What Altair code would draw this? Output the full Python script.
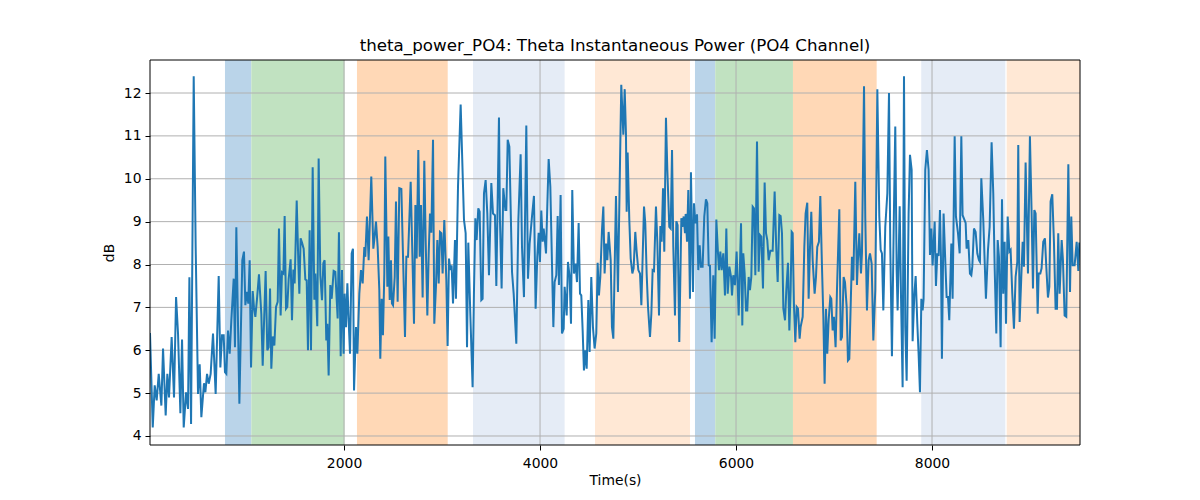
import altair as alt
import pandas as pd

# ---- line data (time in s, power in dB) ----
t1 = [20,48,68,88,109,136,153,180,197,214,241,265,286,306,330,347,364,388,408,422,439,466,486,510,527,544,571,585,602,619,639,663,690,721,738,755,772,785,799,816,833,850,874,887,901,932,962,979,993,1010,1023,1037,1051,1068,1081,1095,1112,1132,1156,1170,1200]
v1 = [6.4,4.2,5.18,4.83,5.45,4.71,6.04,4.48,5.45,4.9,6.31,4.9,7.24,6.39,4.53,6.25,4.2,5.02,4.63,7.7,4.28,12.39,8.41,4.98,5.67,4.44,5.23,5.02,5.45,5.22,5.45,6.39,4.98,7.73,5.6,6.35,6.35,5.49,5.45,6.46,5.92,6.7,7.67,6.07,8.87,4.75,8.1,8.3,7.05,7.36,7.09,8.1,5.6,7.38,7.0,6.78,7.2,7.77,6.85,5.64,7.85]

t2 = [1217,1231,1245,1258,1272,1289,1306,1323,1336,1353,1367,1381,1394,1408,1421,1435,1455,1469,1483,1496,1517,1534,1544,1557,1571,1588,1605,1619,1632,1649,1663,1680,1697,1707,1727,1741,1758,1775,1789,1802,1819,1830,1843,1860,1874,1894,1911,1925,1935,1948,1966,1979,1996,2006,2020,2034,2047,2061,2078,2091,2102,2122,2136,2156,2173,2190,2207,2217,2234,2251,2278,2299,2312,2326,2343,2360,2370,2384,2397,2411,2421]
v2 = [6.0,6.07,7.44,5.57,6.32,6.11,7.01,7.13,8.84,6.81,7.82,7.79,9.13,6.97,7.01,7.66,8.12,6.7,7.88,7.56,9.49,8.03,7.32,8.61,8.51,8.37,7.65,7.63,6.0,8.8,6.0,10.27,7.18,7.79,6.56,10.47,7.75,7.17,8.03,8.1,6.23,6.62,5.41,7.52,7.2,7.85,7.83,7.18,6.74,8.75,5.86,7.87,5.92,7.32,6.54,7.56,6.7,5.92,8.26,8.37,5.06,6.54,5.92,7.32,7.87,7.56,8.41,8.18,9.12,8.1,10.05,8.37,8.64,9.0,8.41,7.4,5.8,7.2,6.35,7.79,10.52]

t3 = [2442,2452,2466,2479,2489,2500,2517,2530,2547,2564,2585,2602,2622,2636,2653,2680,2700,2714,2728,2741,2758,2772,2785,2802,2819,2833,2850,2864,2877,2891,2908,2921,2938,2952,2966,2979,2993,3006,3023,3044,3057,3071,3085,3098,3112,3132,3142,3163,3190,3224,3241,3255,3268,3289,3312,3326,3340,3353,3370,3384,3401,3414,3428,3445,3462,3479,3503,3520,3540,3554,3581,3591,3608,3625]
v3 = [7.48,8.65,7.17,8.1,7.09,7.05,7.71,9.47,7.13,9.78,9.76,8.18,6.31,8.18,8.18,9.93,7.98,6.62,9.39,8.14,10.67,8.18,9.39,7.23,10.42,8.57,6.81,8.26,9.19,8.74,10.91,6.62,7.48,8.57,7.56,8.76,8.73,7.79,9.04,7.63,6.1,8.14,7.87,7.98,7.09,8.57,7.2,9.82,11.73,9.04,8.73,6.07,8.51,6.81,5.14,7.4,9.08,8.57,9.31,9.23,7.17,7.2,9.66,9.97,9.19,7.75,9.9,9.19,9.15,7.5,11.43,9.04,7.44,9.78]

t4 = [3646,3656,3670,3687,3714,3731,3758,3779,3802,3816,3836,3860,3877,3894,3918,3938,3955,3972,3986,3999,4013,4027,4037,4051,4061,4074,4088,4105,4122,4136,4149,4166,4180,4193,4210,4224,4241,4251,4272,4285,4302,4316,4329,4346,4363,4377,4394,4408,4421,4435,4448,4462,4476,4493,4506,4523,4540,4557,4574,4588,4601,4615,4632,4646,4659,4673,4687,4700,4721,4734,4748,4775,4795,4829]
v4 = [9.27,9.27,10.91,10.75,7.83,7.32,6.15,9.04,10.57,8.41,7.24,11.24,7.67,8.49,9.12,9.6,6.97,8.18,8.74,8.06,9.26,8.53,8.84,8.53,8.26,9.35,10.46,9.82,8.02,6.54,7.59,7.75,9.13,7.52,9.62,6.39,6.5,7.48,6.81,8.06,7.71,6.62,9.74,7.79,8.02,7.59,8.97,7.32,7.28,6.46,5.53,6.0,5.57,7.17,5.96,7.71,6.54,6.04,6.39,8.04,7.28,7.71,8.8,9.35,7.79,8.49,8.1,8.76,8.1,6.54,6.27,9.6,7.36,12.19]

t5 = [4850,4864,4877,4884,4894,4911,4925,4942,4955,4972,4986,5003,5020,5034,5061,5074,5088,5102,5122,5136,5149,5163,5183,5197,5214,5228,5241,5255,5268,5285,5299,5319,5333,5347,5360,5377,5391,5404,5421,5442,5452,5466,5479,5486,5500,5513,5530,5540,5561,5571,5585,5602,5615,5629,5642,5659,5676,5693,5707,5721,5734,5751,5768,5782,5799,5816,5826,5840,5853,5870,5887,5901,5915,5932,5949,5959,5972,5989,6006,6027]
v5 = [11.03,12.09,11.03,9.23,10.61,9.04,8.14,7.79,7.91,8.76,8.3,7.87,7.79,7.05,9.35,8.96,7.79,7.01,6.31,6.85,7.87,7.85,9.35,8.53,6.81,8.9,8.53,9.78,8.3,11.42,10.21,8.88,8.84,10.67,8.41,6.81,9.01,8.92,6.19,9.08,8.88,9.12,8.73,9.18,8.53,9.74,7.2,10.15,7.36,9.43,8.96,9.17,7.87,8.45,7.95,7.95,9.12,9.52,9.43,7.98,7.97,6.19,7.75,6.27,9.05,8.26,7.87,8.3,7.87,8.26,7.28,8.84,7.32,7.95,7.71,7.28,7.75,7.52,8.3,6.81]

t6 = [6051,6064,6074,6088,6102,6115,6129,6142,6156,6170,6183,6197,6214,6231,6244,6258,6275,6292,6306,6319,6333,6350,6374,6394,6411,6425,6442,6455,6469,6483,6500,6513,6530,6544,6557,6568,6578,6591,6605,6619,6632,6649,6659,6680,6697,6710,6727,6741,6755,6768,6782,6802,6816,6829,6846,6860,6877,6891,6904,6918,6931,6945,6962,6972,6986,6999,7016,7030,7054,7068,7081,7098,7112,7129,7142,7156,7170,7183,7197,7217,7234]
v6 = [8.96,6.58,8.26,7.79,6.93,6.93,7.71,7.4,7.71,9.35,9.31,7.75,10.87,7.83,8.69,8.65,7.44,9.91,8.73,8.57,8.1,8.32,8.32,9.7,8.34,7.59,9.15,9.13,8.73,6.97,6.7,7.4,8.04,6.46,7.4,8.76,8.73,7.05,6.19,7.01,6.97,6.27,6.54,6.78,8.41,9.19,9.44,7.2,8.41,9.23,8.1,7.32,7.71,8.41,8.53,9.6,7.95,6.78,5.22,6.97,5.92,6.7,7.24,7.2,6.46,6.78,6.07,7.4,9.29,6.23,6.31,7.71,7.59,7.01,5.76,5.8,7.05,8.18,7.63,9.93,7.52]

t7 = [7244,7258,7275,7285,7306,7319,7336,7353,7367,7384,7401,7421,7442,7462,7476,7489,7503,7523,7544,7561,7574,7591,7612,7625,7639,7649,7670,7683,7700,7714,7727,7741,7761,7775,7792,7802,7819,7833,7850,7863,7877,7891,7904,7914,7931,7948,7965,7979,7993,8006,8027,8040,8054,8067,8081,8091,8101,8118,8135,8149,8163,8176,8197,8210,8231,8244,8265,8282,8299,8312]
v7 = [8.1,8.73,7.79,8.26,12.16,9.08,6.93,8.1,8.26,8.02,6.23,7.4,12.09,9.12,8.34,8.26,6.93,8.88,9.66,12.0,8.41,5.86,9.35,11.22,7.87,6.93,9.36,7.32,5.14,12.39,6.54,5.29,9.19,10.56,10.21,6.21,7.28,7.73,6.62,5.92,5.02,7.2,6.93,7.19,10.21,10.67,10.21,8.22,8.84,7.98,9.0,7.5,8.26,8.2,9.27,8.18,5.8,9.19,8.1,7.24,7.24,6.7,8.49,7.2,10.99,9.12,8.73,8.26,10.99,9.15]

t8 = [8343,8353,8370,8387,8401,8411,8428,8445,8462,8479,8489,8503,8523,8550,8571,8588,8608,8625,8639,8656,8670,8683,8700,8714,8727,8741,8755,8772,8789,8802,8819,8836,8853,8870,8880,8894,8911,8925,8938,8955,8979,8999,9016,9030,9044,9057,9078,9088,9105,9118,9135,9152,9166,9183,9197,9210,9227,9244,9261,9275,9288,9302,9323,9336,9353,9370,9391,9408,9421,9435,9455,9476,9493,9503,9510]
v8 = [8.97,8.37,8.57,7.79,7.75,7.95,8.84,8.76,8.26,8.1,8.06,10.01,9.04,7.2,8.34,8.88,10.85,9.66,7.95,6.39,8.57,8.18,6.07,9.52,7.32,8.53,6.62,9.12,8.3,8.34,7.32,6.5,7.71,8.06,10.79,6.66,7.71,8.53,7.95,10.38,7.79,10.99,9.23,7.44,9.27,9.19,6.85,7.79,7.79,7.91,8.53,8.61,7.95,7.23,7.48,9.47,9.64,8.53,6.97,6.97,8.73,7.32,8.57,8.1,6.81,6.78,10.34,7.36,9.12,7.98,7.98,8.53,7.85,8.51,8.41]

times = t1 + t2 + t3 + t4 + t5 + t6 + t7 + t8
values = v1 + v2 + v3 + v4 + v5 + v6 + v7 + v8

# ---- shaded intervals ----
span_start = [785, 1054, 2132, 3316, 4561, 5581, 5788, 6581, 7890, 8762]
span_end = [1054, 2005, 3058, 4251, 5530, 5788, 6581, 7435, 8748, 9510]
span_color = ["#bad4e9", "#c1e2c1", "#ffd8b6", "#e5ecf6", "#ffe8d5",
              "#bad4e9", "#c1e2c1", "#ffd8b6", "#e5ecf6", "#ffe8d5"]

x_ticks = [2000, 4000, 6000, 8000]
y_ticks = [4, 5, 6, 7, 8, 9, 10, 11, 12]

X_DOMAIN = [20, 9510]
Y_DOMAIN = [3.79, 12.77]
PLOT_W = 930
PLOT_H = 385

line_df = pd.DataFrame({"t": times, "v": values})
span_df = pd.DataFrame({"s": span_start, "e": span_end, "c": span_color})
xg_df = pd.DataFrame({"t": x_ticks})
yg_df = pd.DataFrame({"v": y_ticks})

FONT = "DejaVu Sans"

xscale = alt.Scale(domain=X_DOMAIN, nice=False, zero=False)
yscale = alt.Scale(domain=Y_DOMAIN, nice=False, zero=False)

xaxis = alt.Axis(values=x_ticks, format="d", title="Time(s)", grid=False,
                 domain=False, tickColor="black", tickSize=5, labelPadding=6,
                 labelFont=FONT, labelFontSize=13.9, labelColor="black",
                 titleFont=FONT, titleFontSize=13.9, titleFontWeight="normal",
                 titleColor="black", titlePadding=4)
yaxis = alt.Axis(values=y_ticks, format="d", title="dB", grid=False,
                 domain=False, tickColor="black", tickSize=5, labelPadding=4,
                 labelFont=FONT, labelFontSize=13.9, labelColor="black",
                 titleFont=FONT, titleFontSize=13.9, titleFontWeight="normal",
                 titleColor="black", titlePadding=7)

spans = alt.Chart(span_df).mark_rect(opacity=1).encode(
    x=alt.X("s:Q", scale=xscale, axis=xaxis),
    x2="e:Q",
    color=alt.Color("c:N", scale=None),
)

xgrid = alt.Chart(xg_df).mark_rule(color="#b0b0b0", strokeWidth=1).encode(
    x=alt.X("t:Q", scale=xscale)
)
ygrid = alt.Chart(yg_df).mark_rule(color="#b0b0b0", strokeWidth=1).encode(
    y=alt.Y("v:Q", scale=yscale, axis=yaxis)
)

line = alt.Chart(line_df).mark_line(color="#1f77b4", strokeWidth=2, clip=True).encode(
    x=alt.X("t:Q", scale=xscale, axis=xaxis),
    y=alt.Y("v:Q", scale=yscale, axis=yaxis),
    order="t:Q",
)

frame = alt.Chart(pd.DataFrame({"k": [0]})).mark_rect(
    fill=None, stroke="black", strokeWidth=1
).encode(
    x=alt.value(0), x2=alt.value(PLOT_W), y=alt.value(0), y2=alt.value(PLOT_H)
)

chart = alt.layer(spans, xgrid, ygrid, line, frame).properties(
    width=PLOT_W,
    height=PLOT_H,
    title=alt.TitleParams(
        "theta_power_PO4: Theta Instantaneous Power (PO4 Channel)",
        font=FONT, fontSize=16.7, fontWeight="normal", color="black",
        anchor="middle", offset=5,
    ),
    autosize=alt.AutoSizeParams(type="none"),
    padding={"left": 150, "top": 60, "right": 120, "bottom": 55},
).configure_view(stroke=None)

chart.save("out.html", embed_options={"renderer": "svg", "actions": False})
